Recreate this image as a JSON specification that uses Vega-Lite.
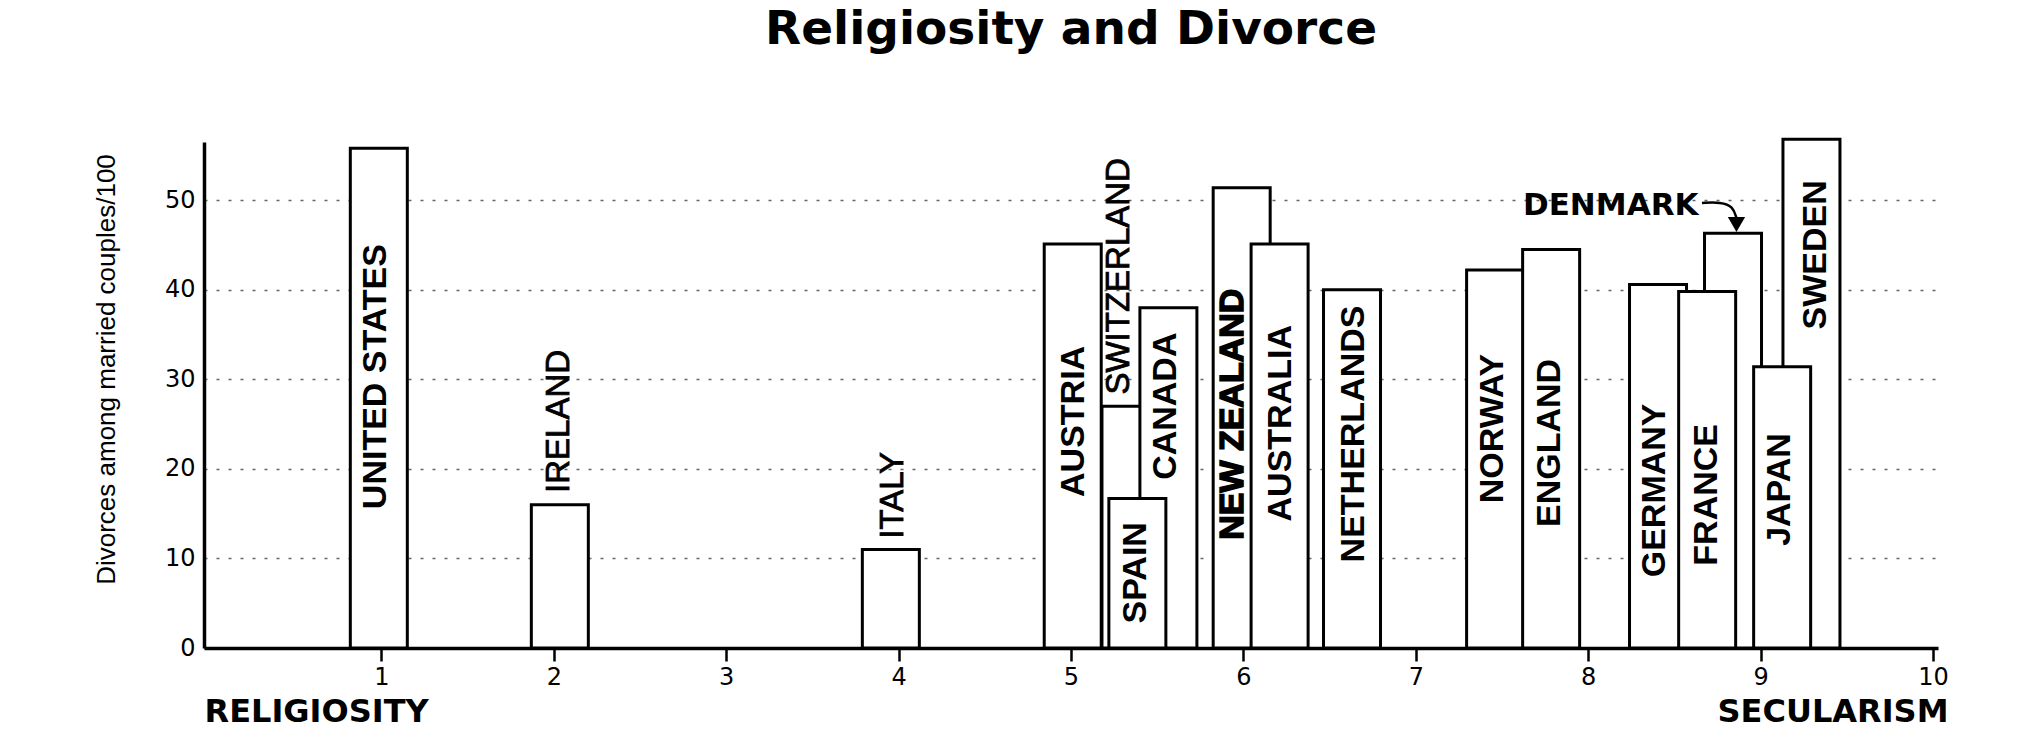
{
  "$schema": "https://vega.github.io/schema/vega-lite/v6.json",
  "width": 1734,
  "height": 506,
  "autosize": {"type": "none"},
  "padding": {"left": 204, "top": 142, "right": 85, "bottom": 84},
  "background": "white",
  "title": {"text": "Religiosity and Divorce", "font": "DejaVu Sans", "fontSize": 47, "fontWeight": "bold", "color": "black", "anchor": "middle", "offset": 84},
  "config": {"view": {"stroke": null}},
  "datasets": {
    "countries": [
      {"country": "UNITED STATES", "score": 0.985, "divorces": 55.8, "labelX": 0.97, "labelY": 30.3},
      {"country": "IRELAND", "score": 2.035, "divorces": 16.0, "labelX": 2.03, "labelY": 25.3},
      {"country": "ITALY", "score": 3.955, "divorces": 11.0, "labelX": 3.97, "labelY": 17.05},
      {"country": "AUSTRIA", "score": 5.01, "divorces": 45.1, "labelX": 5.02, "labelY": 25.3},
      {"country": "SWITZERLAND", "score": 5.345, "divorces": 27.0, "labelX": 5.28, "labelY": 41.5},
      {"country": "CANADA", "score": 5.565, "divorces": 38.0, "labelX": 5.55, "labelY": 27.0},
      {"country": "SPAIN", "score": 5.385, "divorces": 16.7, "labelX": 5.375, "labelY": 8.4},
      {"country": "NEW ZEALAND", "score": 5.99, "divorces": 51.4, "labelX": 5.94, "labelY": 26.1},
      {"country": "AUSTRALIA", "score": 6.21, "divorces": 45.1, "labelX": 6.22, "labelY": 25.1},
      {"country": "NETHERLANDS", "score": 6.63, "divorces": 40.0, "labelX": 6.64, "labelY": 23.9},
      {"country": "NORWAY", "score": 7.46, "divorces": 42.2, "labelX": 7.45, "labelY": 24.5},
      {"country": "ENGLAND", "score": 7.785, "divorces": 44.5, "labelX": 7.78, "labelY": 22.9},
      {"country": "GERMANY", "score": 8.405, "divorces": 40.6, "labelX": 8.39, "labelY": 17.6},
      {"country": "DENMARK", "score": 8.84, "divorces": 46.3, "labelX": 8.64, "labelY": 49.3},
      {"country": "FRANCE", "score": 8.69, "divorces": 39.8, "labelX": 8.69, "labelY": 17.1},
      {"country": "SWEDEN", "score": 9.295, "divorces": 56.8, "labelX": 9.32, "labelY": 43.9},
      {"country": "JAPAN", "score": 9.125, "divorces": 31.4, "labelX": 9.11, "labelY": 17.7}
    ],
    "arrow": [
      {"step": 1, "ax": 8.66, "ay": 49.7},
      {"step": 2, "ax": 8.77, "ay": 49.8},
      {"step": 3, "ax": 8.84, "ay": 49.3},
      {"step": 4, "ax": 8.86, "ay": 48.0}
    ],
    "arrowhead": [
      {"ax": 8.86, "ay": 47.3}
    ]
  },
  "resolve": {"scale": {"x": "independent"}, "axis": {"x": "independent"}},
  "layer": [
    {
      "layer": [
        {
          "mark": {"type": "rule", "color": "#666", "strokeDash": [3, 9], "strokeWidth": 1.5},
          "encoding": {"y": {"datum": 56.5, "type": "quantitative"}}
        },
        {
          "data": {"name": "countries"},
          "mark": {"type": "bar", "orient": "vertical", "width": 57, "fill": "white", "stroke": "black", "strokeWidth": 3},
          "encoding": {
            "x": {
              "field": "score", "type": "quantitative", "title": "RELIGIOSITY",
              "scale": {"domain": [0, 10], "nice": false, "zero": false},
              "axis": {
                "orient": "bottom", "values": [1, 2, 3, 4, 5, 6, 7, 8, 9, 10], "format": "d", "grid": false,
                "domainColor": "black", "domainWidth": 3.5, "tickColor": "black", "tickSize": 13, "tickWidth": 2.5,
                "labelFont": "DejaVu Sans", "labelFontSize": 24, "labelColor": "black", "labelPadding": 4,
                "title": "RELIGIOSITY", "titleFont": "DejaVu Sans", "titleFontSize": 32, "titleFontWeight": "bold", "titleColor": "black",
                "titleAnchor": "start", "titleAlign": "left", "titleX": 0, "titleY": 73, "titleBaseline": "alphabetic"
              }
            },
            "y": {
              "field": "divorces", "type": "quantitative", "title": "Divorces among married couples/100",
              "scale": {"domain": [0, 56.5], "nice": false},
              "axis": {
                "values": [0, 10, 20, 30, 40, 50], "ticks": false,
                "domainColor": "black", "domainWidth": 3.5,
                "grid": true, "gridColor": "#666", "gridDash": [3, 9], "gridWidth": 1.5,
                "labelFont": "DejaVu Sans", "labelFontSize": 24, "labelColor": "black", "labelPadding": 9,
                "title": "Divorces among married couples/100", "titleFont": "Liberation Sans", "titleFontSize": 26, "titleFontWeight": "normal", "titleColor": "black",
                "titleAngle": 270, "titleX": -98, "titleY": 227, "titleAlign": "center", "titleBaseline": "middle"
              }
            }
          }
        },
        {
          "data": {"name": "countries"},
          "transform": [{"filter": "indexof(['IRELAND','ITALY','SWITZERLAND','DENMARK','NEW ZEALAND'], datum.country) < 0"}],
          "mark": {"type": "text", "angle": 270, "align": "center", "baseline": "middle", "font": "Liberation Sans", "fontSize": 34, "fontWeight": "bold", "color": "black"},
          "encoding": {
            "x": {"field": "labelX", "type": "quantitative", "title": "RELIGIOSITY"},
            "y": {"field": "labelY", "type": "quantitative", "title": "Divorces among married couples/100"},
            "text": {"field": "country"}
          }
        },
        {
          "data": {"name": "countries"},
          "transform": [{"filter": "datum.country == 'NEW ZEALAND'"}],
          "mark": {"type": "text", "angle": 270, "align": "center", "baseline": "middle", "font": "Liberation Sans", "fontSize": 34, "fontWeight": "bold", "color": "black", "stroke": "black", "strokeWidth": 1.5},
          "encoding": {
            "x": {"field": "labelX", "type": "quantitative", "title": "RELIGIOSITY"},
            "y": {"field": "labelY", "type": "quantitative", "title": "Divorces among married couples/100"},
            "text": {"field": "country"}
          }
        },
        {
          "data": {"name": "countries"},
          "transform": [{"filter": "indexof(['IRELAND','ITALY','SWITZERLAND'], datum.country) >= 0"}],
          "mark": {"type": "text", "angle": 270, "align": "center", "baseline": "middle", "font": "Liberation Sans", "fontSize": 33, "fontWeight": "normal", "color": "black", "stroke": "black", "strokeWidth": 0.8},
          "encoding": {
            "x": {"field": "labelX", "type": "quantitative", "title": "RELIGIOSITY"},
            "y": {"field": "labelY", "type": "quantitative", "title": "Divorces among married couples/100"},
            "text": {"field": "country"}
          }
        },
        {
          "data": {"name": "countries"},
          "transform": [{"filter": "datum.country == 'DENMARK'"}],
          "mark": {"type": "text", "align": "right", "baseline": "middle", "font": "DejaVu Sans", "fontSize": 31, "fontWeight": "bold", "color": "black"},
          "encoding": {
            "x": {"field": "labelX", "type": "quantitative", "title": "RELIGIOSITY"},
            "y": {"field": "labelY", "type": "quantitative", "title": "Divorces among married couples/100"},
            "text": {"field": "country"}
          }
        },
        {
          "data": {"name": "arrow"},
          "mark": {"type": "line", "interpolate": "basis", "color": "black", "strokeWidth": 2.5},
          "encoding": {
            "x": {"field": "ax", "type": "quantitative", "title": "RELIGIOSITY"},
            "y": {"field": "ay", "type": "quantitative", "title": "Divorces among married couples/100"},
            "order": {"field": "step", "type": "quantitative"}
          }
        },
        {
          "data": {"name": "arrowhead"},
          "mark": {"type": "point", "shape": "triangle-down", "filled": true, "color": "black", "size": 300, "opacity": 1},
          "encoding": {
            "x": {"field": "ax", "type": "quantitative", "title": "RELIGIOSITY"},
            "y": {"field": "ay", "type": "quantitative", "title": "Divorces among married couples/100"}
          }
        }
      ]
    },
    {
      "mark": {"type": "rule", "opacity": 0},
      "encoding": {
        "x": {
          "datum": 0, "type": "quantitative",
          "scale": {"domain": [0, 10], "nice": false, "zero": false},
          "axis": {
            "orient": "bottom", "labels": false, "ticks": false, "domain": false, "grid": false,
            "title": "SECULARISM", "titleFont": "DejaVu Sans", "titleFontSize": 32, "titleFontWeight": "bold", "titleColor": "black",
            "titleAnchor": "end", "titleAlign": "right", "titleX": 1744, "titleY": 73, "titleBaseline": "alphabetic"
          }
        }
      }
    }
  ]
}
